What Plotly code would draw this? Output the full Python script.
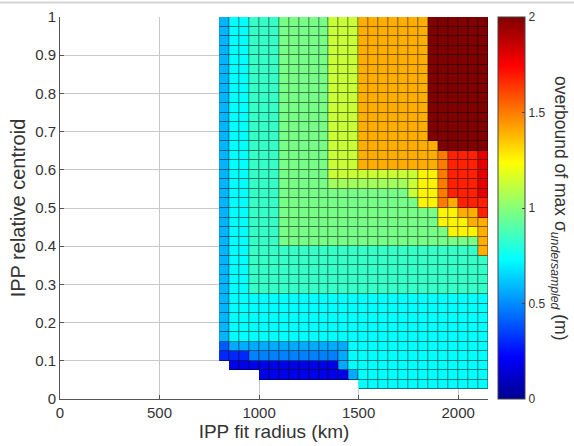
import plotly.graph_objects as go

# ---------------- data ----------------
# cell edges (pcolor-style grid): IPP fit radius (km) and relative centroid
x_edges = [800 + 50 * i for i in range(28)]          # 27 columns, 800..2150 km
y_edges = [round(0.025 * j, 3) for j in range(41)]    # 40 rows, 0..1

# colour levels (overbound, m); '.' = no data
level_values = {
    '.': None,
    'D': 0.18, 'B': 0.30, 'b': 0.40, 'M': 0.48, 'L': 0.56, 'E': 0.58,
    'C': 0.73, 'T': 0.84, 'G': 0.97, 'g': 1.05, 'Y': 1.13, 'W': 1.26,
    'O': 1.40, 'P': 1.50, 'R': 1.68, 'Q': 1.80, 'X': 2.00,
}

# one string per row, top row (0.975-1.0) first, 27 columns left->right
rows_top_to_bottom = [
    "ECCTTTGGGGGYYYOOOOOOOXXXXXX",  # row 39
    "ECCTTTGGGGGYYYOOOOOOOXXXXXX",
    "ECCTTTGGGGGYYYOOOOOOOXXXXXX",
    "ECCTTTGGGGGYYYOOOOOOOXXXXXX",
    "ECCTTTGGGGGYYYOOOOOOOXXXXXX",
    "ECCTTTGGGGGYYYOOOOOOOXXXXXX",
    "ECCTTTGGGGGYYYOOOOOOOXXXXXX",
    "ECCTTTGGGGGYYYOOOOOOOXXXXXX",
    "ECCTTTGGGGGYYYOOOOOOOXXXXXX",
    "ECCTTTGGGGGYYYOOOOOOOXXXXXX",
    "ECCTTTGGGGGYYYOOOOOOOXXXXXX",
    "ECCTTTGGGGGYYYOOOOOOOXXXXXX",
    "ECCTTTGGGGGYYYOOOOOOOXXXXXX",  # row 27
    "ECCTTTGGGGGYYYOOOOOOOOXXXXX",  # row 26
    "ECCTTTGGGGGYYYOOOOOOOOPRRRQ",  # row 25
    "ECCTTTGGGGGYYYOOOOOOOOPRRRQ",  # row 24
    "ECCTTTGGGGGYYYYYYYYYWWPRRRQ",  # row 23
    "ECCTTTGGGGGggggggggYWWPRRRQ",  # row 22
    "ECCTTTGGGGGGGGGGGGGYWWPRRRQ",  # row 21
    "ECCTTTGGGGGGGGGGGGGGWWPORRR",  # row 20
    "ECCTTTGGGGGGGGGGGGGGGGWWOOR",  # row 19
    "ECCTTTGGGGGGGGGGGGGGGGWWWOO",  # row 18
    "ECCTTTGGGGGGGGGGGGGGGGGWWWO",  # row 17
    "ECCTTTGGGGGGGGGGGGGGGGGGGGO",  # row 16
    "ECCTTTTTTTTTTTTTTTTTTTTTTTO",  # row 15
    "ECCTTTTTTTTTTTTTTTTTTTTTTTT",  # row 14
    "ECCTTTTTTTTTTTTTTTTTTTTTTTT",
    "ECCTTTTTTTTTTTTTTTTTTTTTTTT",
    "ECCTTTTTTTTTTTTTTTTTTTTTTTT",  # row 11
    "ECCCCCCCCCCCCCCCCCCCCCCCCCC",  # row 10
    "ECCCCCCCCCCCCCCCCCCCCCCCCCC",
    "ECCCCCCCCCCCCCCCCCCCCCCCCCC",
    "ECCCCCCCCCCCCCCCCCCCCCCCCCC",
    "ECCCCCCCCCCCCCCCCCCCCCCCCCC",  # row 6
    "bLLLLLLLLLLLLCCCCCCCCCCCCCC",  # row 5
    "BBBMMMMMMMMMLCCCCCCCCCCCCCC",  # row 4
    ".DDDDDDDDDDDLCCCCCCCCCCCCCC",  # row 3
    "....DDDDDDDDDLCCCCCCCCCCCCC",  # row 2
    "..............CCCCCCCCCCCCC",  # row 1
    "...........................",  # row 0
]

x_ticks = [0, 500, 1000, 1500, 2000]
y_ticks = [round(0.1 * k, 1) for k in range(11)]
cbar_ticks = [0, 0.5, 1, 1.5, 2]
cbar_ticktext = ['0', '0.5', '1', '1.5', '2']

# ---------------- build ----------------
z = [[level_values[ch] for ch in row] for row in reversed(rows_top_to_bottom)]
mask = [[1 if v is not None else None for v in row] for row in z]

jet = [
    [0.0, 'rgb(0,0,143)'],
    [0.111, 'rgb(0,0,255)'],
    [0.365, 'rgb(0,255,255)'],
    [0.619, 'rgb(255,255,0)'],
    [0.873, 'rgb(255,0,0)'],
    [1.0, 'rgb(128,0,0)'],
]

FONT = "Liberation Sans, Arial, Helvetica, sans-serif"

fig = go.Figure()
fig.add_trace(go.Heatmap(x=x_edges, y=y_edges, z=z, colorscale=jet, zmin=0, zmax=2,
                         showscale=False, hoverinfo='skip'))
fig.add_trace(go.Heatmap(x=x_edges, y=y_edges, z=mask,
                         colorscale=[[0, 'black'], [1, 'black']], zmin=0, zmax=1,
                         opacity=0.5, showscale=False, hoverinfo='skip'))
fig.add_trace(go.Heatmap(
    x=x_edges, y=y_edges, z=z, colorscale=jet, zmin=0, zmax=2, xgap=1, ygap=1,
    colorbar=dict(
        x=(498 - 60) / 428, xanchor='left', xpad=0, y=0.5, yanchor='middle', ypad=0,
        len=1, lenmode='fraction', thickness=27,
        outlinewidth=1, outlinecolor='#444444',
        tickvals=cbar_ticks, ticktext=cbar_ticktext, ticks='inside', ticklen=3,
        tickcolor='#444444', tickfont=dict(size=12, color='#333333', family=FONT),
    ),
))

fig.update_layout(
    width=574, height=446,
    margin=dict(l=60, r=86, t=17, b=47, autoexpand=False),
    paper_bgcolor='white', plot_bgcolor='white',
    font=dict(family=FONT, color='#333333'),
    showlegend=False,
    xaxis=dict(range=[0, 2150], tickvals=x_ticks, showgrid=True, gridcolor='#c8c8c8',
               gridwidth=1, zeroline=False, showline=True, linecolor='#555555',
               linewidth=1, ticks='inside', ticklen=4, tickcolor='#555555',
               tickfont=dict(size=15, color='#333333'), automargin=False,
               title=dict(text='IPP fit radius (km)', font=dict(size=19, color='#333333'),
                          standoff=4)),
    yaxis=dict(range=[0, 1], tickvals=y_ticks, showgrid=True, gridcolor='#c8c8c8',
               gridwidth=1, zeroline=False, showline=True, linecolor='#555555',
               linewidth=1, ticks='inside', ticklen=4, tickcolor='#555555',
               tickfont=dict(size=15, color='#333333'), automargin=False,
               title=dict(text='IPP relative centroid', font=dict(size=20, color='#333333'),
                          standoff=4)),
    annotations=[dict(text='overbound of max σ<sub><i>undersampled</i></sub> (m)',
                      xref='paper', yref='paper', x=(560 - 60) / 428, y=0.5,
                      xanchor='center', yanchor='middle', textangle=90, showarrow=False,
                      font=dict(size=17.5, color='#333333', family=FONT))],
    shapes=[dict(type='line', xref='paper', yref='paper', x0=-60 / 428, x1=514 / 428,
                 y0=(399 - 2.5) / 382, y1=(399 - 2.5) / 382,
                 line=dict(color='#d4d4d4', width=2))],
)

fig.write_html("out.html", config={'displayModeBar': False},
               post_script="document.body.style.margin='0';")
